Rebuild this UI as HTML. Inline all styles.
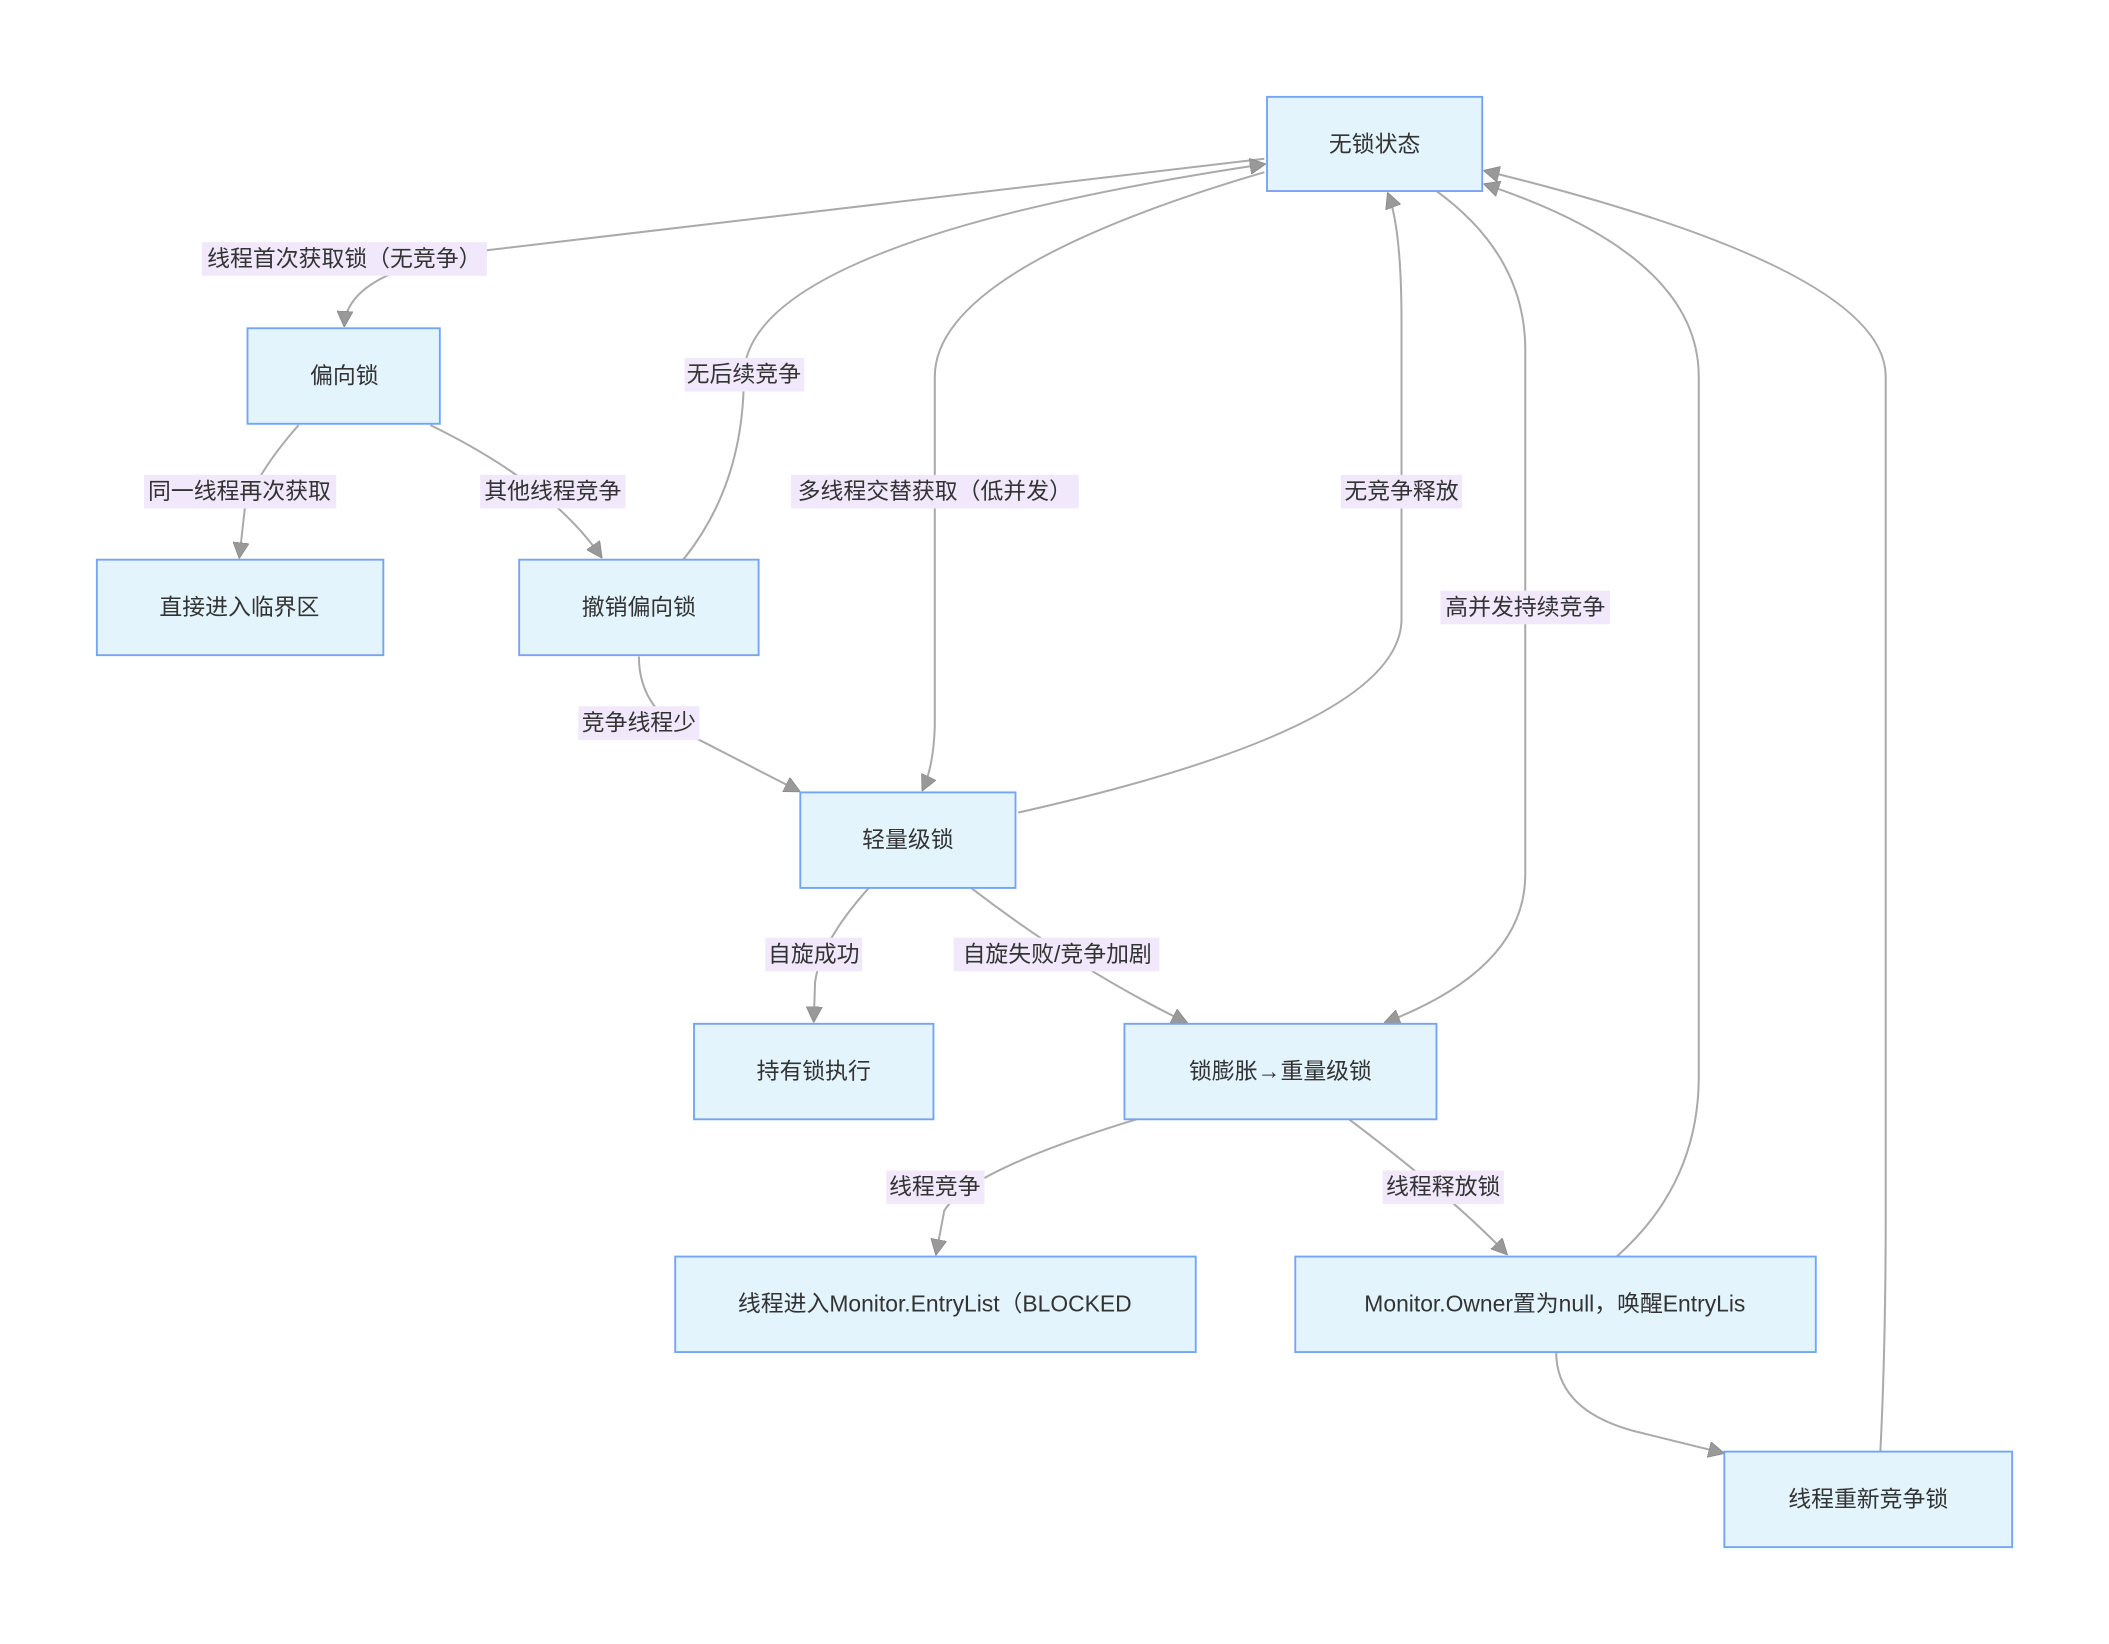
<!DOCTYPE html>
<html><head><meta charset="utf-8"><style>
html,body{margin:0;padding:0;background:#fff;}
svg{display:block;}
text{font-family:"Liberation Sans","Noto Sans CJK SC",sans-serif;font-size:17px;fill:#333;}
.n{fill:#e3f4fd;stroke:#74a5f5;stroke-width:1.4;}
.e{fill:none;stroke:#aaa;stroke-width:1.5;}
.l{fill:#f1e8fb;}
</style></head><body>
<svg width="2109" height="1644" viewBox="0 0 1568 1222" preserveAspectRatio="none" xmlns="http://www.w3.org/2000/svg">
<defs><marker id="a" viewBox="0 0 10 10" refX="9" refY="5" markerWidth="8" markerHeight="8" orient="auto"><path d="M0,0 L10,5 L0,10 z" fill="#999" stroke="#888" stroke-width="0.5"/></marker></defs>
<g class="edges">
<path class="e" d="M940,118 L362,186 Q258,200 256,242" marker-end="url(#a)"/>
<path class="e" d="M222,316 Q192,350 182,378 L178,414" marker-end="url(#a)"/>
<path class="e" d="M320,316 Q410,360 447,414" marker-end="url(#a)"/>
<path class="e" d="M508,416 Q553,360 553,280 Q553,180 940,122" marker-end="url(#a)"/>
<path class="e" d="M475,488 Q475,530 520,550 L594,588" marker-end="url(#a)"/>
<path class="e" d="M940,128 Q695,200 695,280 L695,540 Q694,570 686,587" marker-end="url(#a)"/>
<path class="e" d="M757,604 Q1042,540 1042,460 L1042,240 Q1042,170 1032,144" marker-end="url(#a)"/>
<path class="e" d="M1068,142 Q1134,190 1134,260 L1134,650 Q1134,720 1030,760" marker-end="url(#a)"/>
<path class="e" d="M646,660 Q610,700 606,730 L605,759" marker-end="url(#a)"/>
<path class="e" d="M722,660 Q800,720 882,760" marker-end="url(#a)"/>
<path class="e" d="M845,832 Q720,870 702,900 L696,932" marker-end="url(#a)"/>
<path class="e" d="M1003,832 Q1080,890 1120,932" marker-end="url(#a)"/>
<path class="e" d="M1202,934 Q1263,880 1263,800 L1263,280 Q1263,190 1104,137" marker-end="url(#a)"/>
<path class="e" d="M1157,1005 Q1157,1050 1220,1065 L1281,1080" marker-end="url(#a)"/>
<path class="e" d="M1398,1079 Q1402,1000 1402,900 L1402,280 Q1402,200 1104,127" marker-end="url(#a)"/>
</g>
<g class="labels" text-anchor="middle">
<rect class="l" x="150" y="180" width="212" height="25"/><text x="256" y="198">线程首次获取锁（无竞争）</text>
<rect class="l" x="107" y="353" width="143" height="25"/><text x="178" y="371">同一线程再次获取</text>
<rect class="l" x="357" y="353" width="108" height="25"/><text x="411" y="371">其他线程竞争</text>
<rect class="l" x="509" y="266" width="89" height="25"/><text x="553" y="284">无后续竞争</text>
<rect class="l" x="588" y="353" width="214" height="25"/><text x="695" y="371">多线程交替获取（低并发）</text>
<rect class="l" x="997" y="353" width="90" height="25"/><text x="1042" y="371">无竞争释放</text>
<rect class="l" x="1071" y="439" width="126" height="25"/><text x="1134" y="457">高并发持续竞争</text>
<rect class="l" x="430" y="525" width="90" height="25"/><text x="475" y="543">竞争线程少</text>
<rect class="l" x="569" y="697" width="72" height="25"/><text x="605" y="715">自旋成功</text>
<rect class="l" x="709" y="697" width="153" height="25"/><text x="786" y="715">自旋失败/竞争加剧</text>
<rect class="l" x="659" y="870" width="73" height="25"/><text x="695" y="888">线程竞争</text>
<rect class="l" x="1028" y="870" width="90" height="25"/><text x="1073" y="888">线程释放锁</text>
</g>
<g class="nodes" text-anchor="middle">
<rect class="n" x="942" y="72" width="160" height="70"/><text x="1022" y="113">无锁状态</text>
<rect class="n" x="184" y="244" width="143" height="71"/><text x="256" y="285">偏向锁</text>
<rect class="n" x="72" y="416" width="213" height="71"/><text x="178" y="457">直接进入临界区</text>
<rect class="n" x="386" y="416" width="178" height="71"/><text x="475" y="457">撤销偏向锁</text>
<rect class="n" x="595" y="589" width="160" height="71"/><text x="675" y="630">轻量级锁</text>
<rect class="n" x="516" y="761" width="178" height="71"/><text x="605" y="802">持有锁执行</text>
<rect class="n" x="836" y="761" width="232" height="71"/><text x="952" y="802">锁膨胀→重量级锁</text>
<rect class="n" x="502" y="934" width="387" height="71"/><text x="695" y="975">线程进入Monitor.EntryList（BLOCKED</text>
<rect class="n" x="963" y="934" width="387" height="71"/><text x="1156" y="975">Monitor.Owner置为null，唤醒EntryLis</text>
<rect class="n" x="1282" y="1079" width="214" height="71"/><text x="1389" y="1120">线程重新竞争锁</text>
</g>
</svg>
</body></html>
